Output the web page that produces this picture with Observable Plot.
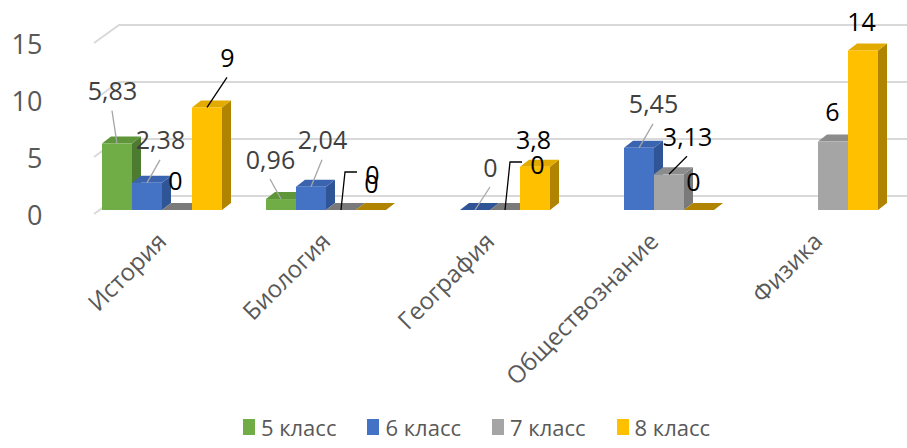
<!DOCTYPE html>
<html>
<head>
<meta charset="utf-8">
<script src="https://cdn.jsdelivr.net/npm/d3@7"></script>
<script src="https://cdn.jsdelivr.net/npm/@observablehq/plot@0.6"></script>
<style>
  body { margin: 0; background: #fff; font-family: "Open Sans", sans-serif; overflow: hidden; }
  #legend { display: flex; justify-content: center; gap: 31px; height: 42px; align-items: center; color: #595959; font-size: 22px; padding-left: 46px; line-height: 1.2; }
  .item { display: flex; align-items: center; gap: 6px; }
  .sw { width: 12px; height: 16px; display: inline-block; }
</style>
</head>
<body>
<div id="chart"></div>
<div id="legend"></div>
<script>
// ---- data ----
const categories = ["История", "Биология", "География", "Обществознание", "Физика"];
const seriesNames = ["5 класс", "6 класс", "7 класс", "8 класс"];
const class5 = [5.83, 0.96, null, null, null];
const class6 = [2.38, 2.04, 0, 5.45, null];
const class7 = [0, 0, 0, 3.13, 6];
const class8 = [9, 0, 3.8, 0, 14];
const yTicks = [0, 5, 10, 15];

// ---- styles ----
const seriesColors = ["#70ad47", "#4472c4", "#a5a5a5", "#ffc000"];
const topColors = ["#5e9639", "#3b64b0", "#8c8c8c", "#e3aa00"];
const sideColors = ["#4d7b30", "#2f5597", "#7a7a7a", "#b08400"];
const labelColors = ["#404040", "#404040", "#000000", "#000000"];
const leaderColors = ["#a6a6a6", "#a6a6a6", "#000000", "#000000"];
// manual label placement (pixel nudges, leader type) per series, per category
const labelPlacement = [
  [[-5, -52, "line"], [-11, -39, "line"], null, null, null],
  [[13, -42, "line"], [11, -46, "line"], [15, -42, "line"], [14, -43, "line"], null],
  [[-2, -29, "none"], [31, -35, "elbow"], [32, -45, "elbow"], [18, -37, "line"], [-1, -29, "none"]],
  [[20, -49, "line"], [0, -26, "none"], [-2, -26, "none"], [-6, -28, "none"], [-2, -28, "none"]]
];
const DEPTH_X = 9, DEPTH_Y = -7;      // bar depth
const WALL_X = 25, WALL_Y = -18;      // back wall offset

const seriesValues = [class5, class6, class7, class8];
const rows = [];
categories.forEach((c, ci) => seriesNames.forEach((s, si) => {
  const v = seriesValues[si][ci];
  if (v != null) {
    const p = labelPlacement[si][ci];
    rows.push({category: c, series: s, value: v, si, ci, ldx: p[0], ldy: p[1], leader: p[2]});
  }
}));
const fmt = v => String(v).replace(".", ",");

function boxRender(index, scales) {
  const g = d3.create("svg:g");
  const bw = scales.x.bandwidth();
  const y0 = scales.y(0);
  const order = Array.from(index).sort((a, b) => rows[a].si - rows[b].si);
  for (const i of order) {
    const r = rows[i];
    const xa = scales.x(r.series), xb = xa + bw, yv = scales.y(r.value);
    if (yv < y0) {
      g.append("polygon")
        .attr("points", [[xb, yv], [xb + DEPTH_X, yv + DEPTH_Y], [xb + DEPTH_X, y0 + DEPTH_Y], [xb, y0]].join(" "))
        .attr("fill", sideColors[r.si]);
    }
    g.append("polygon")
      .attr("points", [[xa, yv], [xa + DEPTH_X, yv + DEPTH_Y], [xb + DEPTH_X, yv + DEPTH_Y], [xb, yv]].join(" "))
      .attr("fill", yv < y0 ? topColors[r.si] : sideColors[r.si]);
  }
  return g.node();
}

function leaderRender(index, scales) {
  const g = d3.create("svg:g").attr("fill", "none").attr("stroke-width", 1.3);
  const bw = scales.x.bandwidth();
  for (const i of index) {
    const r = rows[i];
    if (r.leader === "none") continue;
    const cx = scales.x(r.series) + bw / 2, yv = scales.y(r.value);
    const lx = cx + r.ldx, ly = yv + r.ldy;
    const pts = r.leader === "line"
      ? [[lx, ly + 19], [cx, yv]]
      : [[cx, yv], [lx - 27, ly - 3], [lx - 15, ly - 3]];
    g.append("polyline").attr("points", pts.join(" ")).attr("stroke", leaderColors[r.si]);
  }
  return g.node();
}

function gridRender(index, scales, values, dim) {
  const g = d3.create("svg:g").attr("fill", "none").attr("stroke", "#d9d9d9").attr("stroke-width", 2);
  const x0 = dim.marginLeft - 8;
  for (const t of yTicks) {
    const y = scales.y(t);
    g.append("polyline").attr("points",
      [[x0, y + 4], [x0 + WALL_X, y + 4 + WALL_Y], [dim.width, y + 4 + WALL_Y]].join(" "));
  }
  return g.node();
}

const labelMarks = rows.map(r => Plot.text([r], {
  fx: "category", x: "series", y: "value", text: d => fmt(d.value),
  dx: r.ldx, dy: r.ldy, fill: labelColors[r.si], fontSize: 25
}));

const chart = Plot.plot({
  width: 907,
  height: 406,
  marginLeft: 80,
  marginRight: 7,
  marginTop: 39,
  marginBottom: 196,
  style: {fontFamily: "Open Sans, sans-serif", background: "#fff"},
  fx: {domain: categories, paddingInner: 0.2683, paddingOuter: 0.1341, round: false, label: null},
  x: {domain: seriesNames, padding: 0, round: false, axis: null},
  y: {domain: [0, 15], label: null},
  color: {domain: seriesNames, range: seriesColors},
  marks: [
    Plot.frame({facet: "super", stroke: "none", render: gridRender}),
    Plot.axisY(yTicks, {tickSize: 0, tickPadding: 60, dy: 6, fontSize: 27, color: "#595959", label: null}),
    Plot.axisFx({anchor: "bottom", tickRotate: -45, tickSize: 0, tickPadding: 27, fontSize: 24, color: "#595959", label: null}),
    Plot.barY(rows, {fx: "category", x: "series", y: "value", render: boxRender}),
    Plot.barY(rows, {fx: "category", x: "series", y: "value", fill: "series"}),
    Plot.barY(rows, {fx: "category", x: "series", y: "value", render: leaderRender}),
    ...labelMarks
  ]
});
document.getElementById("chart").append(chart);

const legend = d3.select("#legend");
seriesNames.forEach((s, i) => {
  const it = legend.append("div").attr("class", "item");
  it.append("span").attr("class", "sw").style("background", seriesColors[i]);
  it.append("span").text(s);
});
</script>
</body>
</html>
